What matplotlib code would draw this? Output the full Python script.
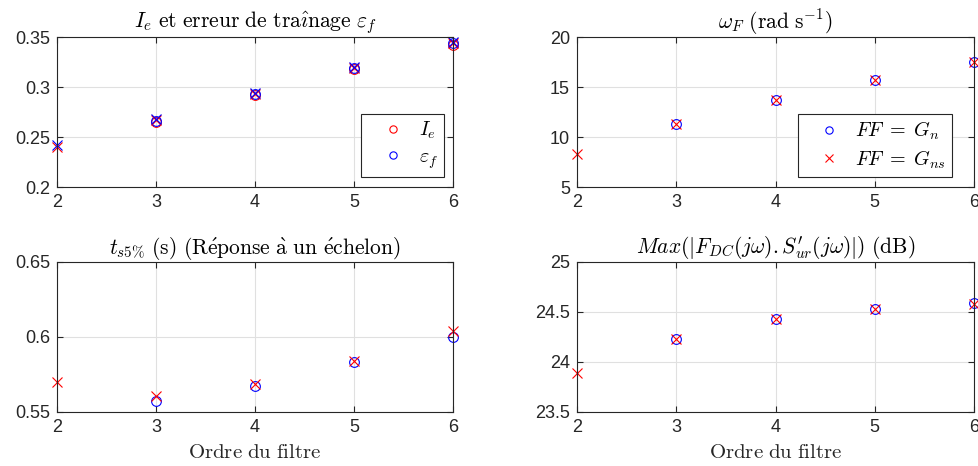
#!/usr/bin/env python3
# -*- coding: utf-8 -*-

import matplotlib
matplotlib.use("Agg")
import matplotlib.pyplot as plt

plt.rcParams["mathtext.fontset"] = "cm"
plt.rcParams["font.family"] = ["Liberation Sans", "DejaVu Sans"]

# --- données ---
ordre_n = [3, 4, 5, 6]          # FF = Gn
ordre_ns = [2, 3, 4, 5, 6]      # FF = Gns

Ie_n = [0.265, 0.292, 0.318, 0.342]
eps_n = [0.266, 0.293, 0.319, 0.344]
Ie_ns = [0.240, 0.267, 0.293, 0.319, 0.344]
eps_ns = [0.242, 0.268, 0.294, 0.320, 0.345]

wF_n = [11.27, 13.67, 15.73, 17.5]
wF_ns = [8.3, 11.27, 13.7, 15.75, 17.5]

ts_n = [0.557, 0.567, 0.5835, 0.600]
ts_ns = [0.570, 0.5607, 0.5685, 0.5842, 0.6037]

mx_n = [24.23, 24.43, 24.53, 24.59]
mx_ns = [23.89, 24.23, 24.43, 24.53, 24.58]

xticks = [2, 3, 4, 5, 6]
yt_err = [0.2, 0.25, 0.3, 0.35]
yt_w = [5, 10, 15, 20]
yt_ts = [0.55, 0.6, 0.65]
yt_mx = [23.5, 24, 24.5, 25]

GRIS = (0.15, 0.15, 0.15)
MS = 7
MEW = 0.8


def style_ax(ax, yticks, title):
    ax.set_xlim(2, 6)
    ax.set_ylim(yticks[0], yticks[-1])
    ax.set_xticks(xticks)
    ax.set_yticks(yticks)
    ax.set_yticklabels([f"{v:g}" for v in yticks])
    ax.tick_params(direction="in", top=True, right=True, length=4,
                   width=0.8, colors=GRIS, labelsize=13, pad=5)
    for s in ax.spines.values():
        s.set_color(GRIS)
        s.set_linewidth(0.8)
    ax.grid(True, color=(0.88, 0.88, 0.88), linewidth=0.8)
    ax.set_axisbelow(True)
    ax.set_title(title, fontsize=15.5, pad=6)


def pts(ax, x, y, fmt, **kw):
    ax.plot(x, y, fmt, ms=MS, mew=MEW, mfc="none", clip_on=False, **kw)


def legende(ax, xr):
    leg = ax.legend(loc="lower right", bbox_to_anchor=(xr, 0.067),
                    borderaxespad=0, fontsize=14.5, markerscale=0.75,
                    frameon=True, fancybox=False, framealpha=1, edgecolor=GRIS,
                    handlelength=2.5, handletextpad=0.05, labelspacing=0.3,
                    borderpad=0.3)
    leg.get_frame().set_linewidth(0.8)


fig = plt.figure(figsize=(9.79, 4.66), dpi=100)
ax1 = fig.add_axes([0.0582, 0.5987, 0.4045, 0.3219])
ax2 = fig.add_axes([0.5894, 0.5987, 0.4055, 0.3219])
ax3 = fig.add_axes([0.0582, 0.1159, 0.4045, 0.3219])
ax4 = fig.add_axes([0.5894, 0.1159, 0.4055, 0.3219])

# I_e et erreur de traînage
pts(ax1, ordre_n, Ie_n, "ro", color=(1, 0, 0), label=r"$I_e$")
pts(ax1, ordre_n, eps_n, "bo", color=(0, 0, 1), label=r"$\varepsilon_f$")
pts(ax1, ordre_ns, Ie_ns, "rx", color=(1, 0, 0))
pts(ax1, ordre_ns, eps_ns, "bx", color=(0, 0, 1))
style_ax(ax1, yt_err,
         r"$I_e\ \mathrm{et\ erreur\ de\ tra\hat{\imath}nage}\ \varepsilon_f$")
legende(ax1, 0.977)

# omega_F
pts(ax2, ordre_n, wF_n, "bo", color=(0, 0, 1), label=r"$FF\;=\;G_n$")
pts(ax2, ordre_ns, wF_ns, "rx", color=(1, 0, 0), label=r"$FF\;=\;G_{ns}$")
style_ax(ax2, yt_w, r"$\omega_F\ \mathrm{(rad\ s}^{-1}\mathrm{)}$")
legende(ax2, 0.945)

# temps de réponse
pts(ax3, ordre_n, ts_n, "bo", color=(0, 0, 1))
pts(ax3, ordre_ns, ts_ns, "rx", color=(1, 0, 0))
style_ax(ax3, yt_ts,
         r"$t_{s5\%}\ \mathrm{(s)\ (R\acute{e}ponse\ \grave{a}\ un\ \acute{e}chelon)}$")

# max sensibilité
pts(ax4, ordre_n, mx_n, "bo", color=(0, 0, 1))
pts(ax4, ordre_ns, mx_ns, "rx", color=(1, 0, 0))
style_ax(ax4, yt_mx,
         r"$Max(|F_{DC}(j\omega).S^{\prime}_{ur}(j\omega)|)\ \mathrm{(dB)}$")

for ax in (ax3, ax4):
    ax.set_xlabel(r"$\mathrm{Ordre\ du\ filtre}$", fontsize=15, labelpad=5,
                  color=GRIS)

fig.savefig("out.png", dpi=100)
